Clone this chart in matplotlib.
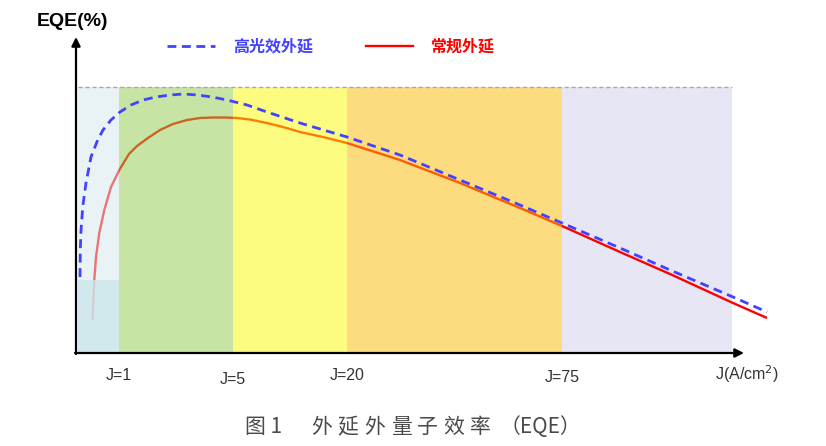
import matplotlib.pyplot as plt
from matplotlib.lines import Line2D

# schematic x position (0 = origin, same scale as the drawing) and EQE height
zone_edges = [2, 43, 157, 271, 486, 656]
zone_top = 266
zone_colors = ["#d5e9ef", "#93cb4d", "#fbfb03", "#fdb900", "#e7e6f4"]
zone_alpha = [0.5, 0.5, 0.5, 0.5, 1.0]

j_labels = ["J=1", "J=5", "J=20", "J=75"]
j_label_pos = [43, 157, 271, 486]
j_label_dy = [-23, -26, -23, -25]

hi_x = [4, 4.3, 5, 6.7, 10, 15, 21.7, 27, 35, 44, 55, 67, 80, 94, 108, 121,
        136, 151, 171, 191, 224, 271, 324, 384, 444, 486, 544, 594, 657, 691]
hi_eqe = [76, 103, 122, 146, 170, 196, 213, 223, 233, 241, 248, 253, 256,
          258, 259, 258, 256, 253, 248, 241, 230, 216, 198, 173, 148, 130, 105,
          83, 56, 41]

std_x = [16.5, 18.3, 20, 23.3, 28.3, 35, 43.3, 53, 61, 72, 84, 97, 111, 124,
         137, 149, 161, 174, 191, 207, 224, 247, 271, 324, 384, 444, 486, 544,
         594, 657, 691]
std_eqe = [33, 73, 96, 120, 143, 166, 183, 199, 207, 215, 223, 229, 233, 235,
           235.5, 235.5, 235, 233.5, 230, 226, 221, 216, 210, 193, 170, 145,
           127, 101, 79, 50, 35]

caption_no = "图 1"
caption_chars = list("外延外量子效率")
caption_tail = "（EQE）"

BLUE = "#4242ff"
RED = "#ff0000"
CJK = ["Noto Sans CJK SC", "DejaVu Sans"]

fig = plt.figure(figsize=(8.26, 4.46), dpi=100)
ax = fig.add_axes([0, 0, 1, 1])
ax.set_xlim(-76, 750)
ax.set_ylim(-93, 353)
ax.axis("off")

# coloured zones (semi-transparent ones sit on top of the red curve)
lefts = zone_edges[:-1]
widths = [b - a for a, b in zip(zone_edges[:-1], zone_edges[1:])]
for left, w, c, a in zip(lefts, widths, zone_colors, zone_alpha):
    ax.bar(left, zone_top, width=w, align="edge", color=c, alpha=a,
           linewidth=0, zorder=0 if a == 1.0 else 2)
# lower box in the first zone
ax.bar(zone_edges[0], 73, width=widths[0], align="edge", color="#cce7eb",
       alpha=0.8, linewidth=0, zorder=2)

ax.plot([zone_edges[0], zone_edges[-1]], [zone_top, zone_top], color="#a8a8a8",
        lw=1, dashes=(3, 2), zorder=2.5)

ax.plot(std_x, std_eqe, color=RED, lw=1.7, zorder=1, solid_capstyle="butt")
ax.plot(hi_x, hi_eqe, color=BLUE, lw=2.0, dashes=(3.2, 2), zorder=3)

# axes with arrows
arrow = dict(arrowstyle="-|>", color="black", lw=1.6, mutation_scale=13,
             shrinkA=0, shrinkB=0)
ax.annotate("", xy=(0, 316), xytext=(0, -1), arrowprops=arrow, zorder=4)
ax.annotate("", xy=(668, 0), xytext=(-1, 0), arrowprops=arrow, zorder=4)

ax.text(-4, 331, "EQE(%)", fontsize=14, fontweight="bold",
        family="Liberation Sans", ha="center", va="center")

for lab, x, dy in zip(j_labels, j_label_pos, j_label_dy):
    ax.text(x, dy, lab, fontsize=11.5, family="Liberation Sans",
            color="#333333", ha="center", va="center")
ax.text(671, -21, "J(A/cm$^2$)", fontsize=11.5, family="Liberation Sans",
        color="#333333", ha="center", va="center")

# legend
handles = [Line2D([], [], color=BLUE, lw=2.0, dashes=(3.2, 2)),
           Line2D([], [], color=RED, lw=1.7)]
leg = ax.legend(handles, ["高光效外延", "常规外延"], loc="center",
                bbox_to_anchor=(0.401, 0.895), ncol=2, frameon=False,
                handlelength=3.0, handletextpad=1.1, columnspacing=3.3,
                prop=dict(family=CJK, size=11.5, weight="bold"))
for t, c in zip(leg.get_texts(), [BLUE, RED]):
    t.set_color(c)

# caption (wide character spacing like the original)
cap = dict(fontsize=15, family=CJK, color="#4a4a4a", va="center")
ax.text(169, -74, caption_no, ha="left", **cap)
for i, ch in enumerate(caption_chars):
    ax.text(245.5 + i * 26.5, -74, ch, ha="center", **cap)
ax.text(464, -74, caption_tail, ha="center", **cap)

fig.savefig("out.png", dpi=100)
